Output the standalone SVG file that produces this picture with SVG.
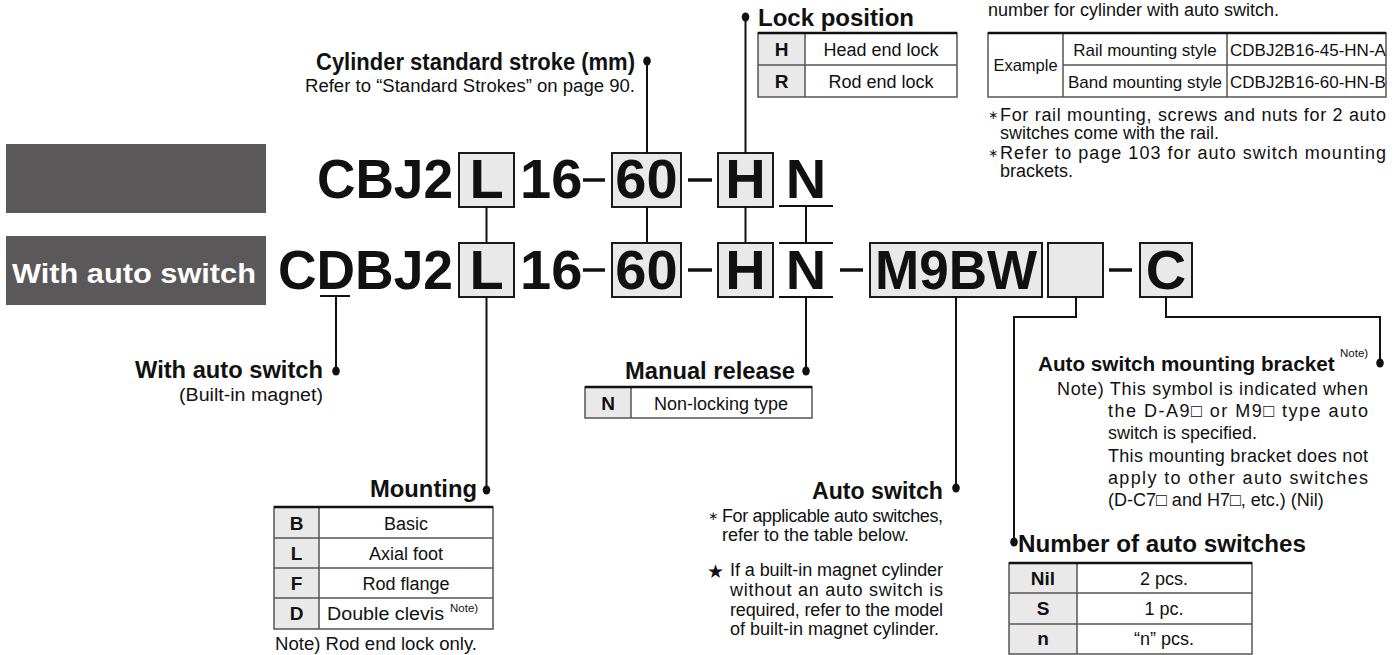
<svg xmlns="http://www.w3.org/2000/svg" width="1396" height="655" viewBox="0 0 1396 655">
<defs>
<style>
text{font-family:"Liberation Sans",Arial,sans-serif;fill:#111}
.b{font-weight:bold}
.w{fill:#fff}
.code{font-weight:bold;font-size:56px}
.lbl{font-weight:bold;font-size:23px}
.t{font-size:18px}
.s{font-size:17px}
.sup{font-size:11.5px;font-weight:normal}
.ast{font-size:12px;font-family:"DejaVu Sans",sans-serif}
.mid{text-anchor:middle}
.end{text-anchor:end}
.box{fill:#e8e9e8;stroke:#1a1a1a;stroke-width:2}
.ln{stroke:#111;stroke-width:2;fill:none}
.dash{stroke:#111;stroke-width:3.5}
.dot{fill:#111}
.cell{fill:#e8e9e8}
.grid{stroke:#555;stroke-width:1.5;fill:none}
.top{stroke:#111;stroke-width:2.5}
.gray{fill:#5b5859}
</style>
</defs>
<rect width="1396" height="655" fill="#fff"/>

<g id="headers">
<rect class="gray" x="6" y="144" width="260" height="69"/>
<rect class="gray" x="6" y="236" width="260" height="69"/>
<text class="b w mid" x="134" y="283" font-size="28" textLength="244" lengthAdjust="spacingAndGlyphs">With auto switch</text>
</g>

<g id="code-row1">
<text class="code" x="317" y="198" textLength="136" lengthAdjust="spacingAndGlyphs">CBJ2</text>
<rect class="box" x="459" y="153" width="55" height="54"/>
<text class="code mid" x="486.5" y="198">L</text>
<text class="code" x="520" y="198">16</text>
<line class="dash" x1="583" y1="180" x2="605" y2="180"/>
<rect class="box" x="612" y="153" width="69" height="54"/>
<text class="code mid" x="646.5" y="198">60</text>
<line class="dash" x1="688" y1="180" x2="712" y2="180"/>
<rect class="box" x="718" y="153" width="55" height="54"/>
<text class="code mid" x="745.5" y="198">H</text>
<text class="code mid" x="806" y="198">N</text>
<line class="ln" x1="779" y1="206" x2="833" y2="206"/>
</g>

<g id="code-row2">
<text class="code" x="278" y="289" textLength="175" lengthAdjust="spacingAndGlyphs">CDBJ2</text>
<line class="ln" x1="320" y1="296" x2="350" y2="296"/>
<rect class="box" x="459" y="243" width="55" height="54"/>
<text class="code mid" x="486.5" y="289">L</text>
<text class="code" x="520" y="289">16</text>
<line class="dash" x1="583" y1="270" x2="605" y2="270"/>
<rect class="box" x="612" y="243" width="69" height="54"/>
<text class="code mid" x="646.5" y="289">60</text>
<line class="dash" x1="688" y1="270" x2="712" y2="270"/>
<rect class="box" x="718" y="243" width="55" height="54"/>
<text class="code mid" x="745.5" y="289">H</text>
<line class="ln" x1="779" y1="243" x2="833" y2="243"/>
<text class="code mid" x="806" y="289">N</text>
<line class="ln" x1="779" y1="297" x2="833" y2="297"/>
<line class="dash" x1="840" y1="270" x2="863" y2="270"/>
<rect class="box" x="870" y="243" width="172" height="54"/>
<text class="code mid" x="956" y="289" textLength="162" lengthAdjust="spacingAndGlyphs">M9BW</text>
<rect class="box" x="1048" y="243" width="55" height="54"/>
<line class="dash" x1="1109" y1="270" x2="1132" y2="270"/>
<rect class="box" x="1140" y="243" width="52" height="54"/>
<text class="code mid" x="1166" y="289">C</text>
</g>

<g id="connectors">
<line class="ln" x1="647" y1="61" x2="647" y2="153"/>
<line class="ln" x1="647" y1="207" x2="647" y2="243"/>
<line class="ln" x1="745.5" y1="17" x2="745.5" y2="153"/>
<line class="ln" x1="745.5" y1="207" x2="745.5" y2="243"/>
<line class="ln" x1="486.5" y1="207" x2="486.5" y2="243"/>
<line class="ln" x1="486.5" y1="297" x2="486.5" y2="490"/>
<line class="ln" x1="806" y1="206" x2="806" y2="243"/>
<line class="ln" x1="806" y1="297" x2="806" y2="371"/>
<line class="ln" x1="336" y1="296" x2="336" y2="371"/>
<line class="ln" x1="956" y1="297" x2="956" y2="488"/>
<polyline class="ln" points="1076,297 1076,317 1014,317 1014,542"/>
<polyline class="ln" points="1166,297 1166,317 1380,317 1380,363"/>
<ellipse class="dot" cx="647" cy="61" rx="3.8" ry="4.6"/>
<ellipse class="dot" cx="745.5" cy="17" rx="3.8" ry="4.6"/>
<ellipse class="dot" cx="486.5" cy="490" rx="3.8" ry="4.6"/>
<ellipse class="dot" cx="806" cy="371" rx="3.8" ry="4.6"/>
<ellipse class="dot" cx="336" cy="371" rx="3.8" ry="4.6"/>
<ellipse class="dot" cx="956" cy="488" rx="3.8" ry="4.6"/>
<ellipse class="dot" cx="1014" cy="542" rx="3.8" ry="4.6"/>
<ellipse class="dot" cx="1380" cy="363" rx="3.8" ry="4.6"/>
</g>

<g id="stroke-label">
<text class="lbl end" x="635" y="70" font-size="22" textLength="319" lengthAdjust="spacingAndGlyphs">Cylinder standard stroke (mm)</text>
<text class="t end" x="635" y="92" textLength="330" lengthAdjust="spacingAndGlyphs">Refer to “Standard Strokes” on page 90.</text>
</g>

<g id="lock-position">
<text class="lbl" x="758" y="26" font-size="24" textLength="156" lengthAdjust="spacingAndGlyphs">Lock position</text>
<rect class="cell" x="758" y="33" width="47" height="64"/>
<rect class="grid" x="758" y="33" width="199" height="64"/>
<line class="grid" x1="758" y1="65" x2="957" y2="65"/>
<line class="grid" x1="805" y1="33" x2="805" y2="97"/>
<line class="top" x1="758" y1="33" x2="957" y2="33"/>
<text class="b mid" x="781.5" y="56" font-size="19">H</text>
<text class="t mid" x="881" y="56">Head end lock</text>
<text class="b mid" x="781.5" y="88" font-size="19">R</text>
<text class="t mid" x="881" y="88">Rod end lock</text>
</g>

<g id="example-note">
<text class="t" x="988" y="16">number for cylinder with auto switch.</text>
<rect class="grid" x="988" y="33" width="398" height="64"/>
<line class="grid" x1="1063" y1="65" x2="1386" y2="65"/>
<line class="grid" x1="1063" y1="33" x2="1063" y2="97"/>
<line class="grid" x1="1227" y1="33" x2="1227" y2="97"/>
<line class="top" x1="988" y1="33" x2="1386" y2="33"/>
<text class="mid" x="1025.5" y="71" font-size="16.5">Example</text>
<text class="s mid" x="1145" y="56">Rail mounting style</text>
<text class="s mid" x="1145" y="88">Band mounting style</text>
<text class="s" x="1230" y="56">CDBJ2B16-45-HN-A</text>
<text class="s" x="1230" y="88">CDBJ2B16-60-HN-B</text>
<text class="ast" x="988" y="119">∗</text>
<text class="t" x="1000" y="121" textLength="386" lengthAdjust="spacing">For rail mounting, screws and nuts for 2 auto</text>
<text class="t" x="1000" y="139">switches come with the rail.</text>
<text class="ast" x="988" y="157">∗</text>
<text class="t" x="1000" y="159" textLength="386" lengthAdjust="spacing">Refer to page 103 for auto switch mounting</text>
<text class="t" x="1000" y="177">brackets.</text>
</g>

<g id="with-auto-switch">
<text class="lbl end" x="323" y="378" textLength="188" lengthAdjust="spacingAndGlyphs">With auto switch</text>
<text class="t end" x="323" y="401" textLength="144" lengthAdjust="spacingAndGlyphs">(Built-in magnet)</text>
</g>

<g id="manual-release">
<text class="lbl end" x="795" y="379" textLength="170" lengthAdjust="spacingAndGlyphs">Manual release</text>
<rect class="cell" x="585" y="387" width="46" height="31"/>
<rect class="grid" x="585" y="387" width="227" height="31"/>
<line class="grid" x1="631" y1="387" x2="631" y2="418"/>
<line class="top" x1="585" y1="387" x2="812" y2="387"/>
<text class="b mid" x="608" y="410" font-size="19">N</text>
<text class="t mid" x="721" y="410">Non-locking type</text>
</g>

<g id="mounting">
<text class="lbl end" x="477" y="497" textLength="107" lengthAdjust="spacingAndGlyphs">Mounting</text>
<rect class="cell" x="274" y="507" width="45" height="122"/>
<rect class="grid" x="274" y="507" width="219" height="122"/>
<line class="grid" x1="274" y1="538" x2="493" y2="538"/>
<line class="grid" x1="274" y1="568" x2="493" y2="568"/>
<line class="grid" x1="274" y1="598" x2="493" y2="598"/>
<line class="grid" x1="319" y1="507" x2="319" y2="629"/>
<line class="top" x1="274" y1="507" x2="493" y2="507"/>
<text class="b mid" x="296.5" y="530" font-size="19">B</text>
<text class="t mid" x="406" y="530">Basic</text>
<text class="b mid" x="296.5" y="560" font-size="19">L</text>
<text class="t mid" x="406" y="560">Axial foot</text>
<text class="b mid" x="296.5" y="590" font-size="19">F</text>
<text class="t mid" x="406" y="590">Rod flange</text>
<text class="b mid" x="296.5" y="620" font-size="19">D</text>
<text class="t" x="327" y="620" textLength="117" lengthAdjust="spacingAndGlyphs">Double clevis</text>
<text class="sup" x="450" y="612">Note)</text>
<text class="t" x="275" y="650" textLength="202" lengthAdjust="spacingAndGlyphs">Note) Rod end lock only.</text>
</g>

<g id="auto-switch">
<text class="lbl end" x="943" y="499" textLength="131" lengthAdjust="spacingAndGlyphs">Auto switch</text>
<text class="ast" x="708" y="520">∗</text>
<text class="t" x="722" y="522" textLength="221" lengthAdjust="spacing">For applicable auto switches,</text>
<text class="t" x="722" y="541">refer to the table below.</text>
<text x="707" y="578" font-size="19" font-family="DejaVu Sans, sans-serif">★</text>
<text class="t" x="730" y="576" textLength="213" lengthAdjust="spacing">If a built-in magnet cylinder</text>
<text class="t" x="730" y="596" textLength="213" lengthAdjust="spacing">without an auto switch is</text>
<text class="t" x="730" y="616" textLength="213" lengthAdjust="spacing">required, refer to the model</text>
<text class="t" x="730" y="635">of built-in magnet cylinder.</text>
</g>

<g id="bracket">
<text class="b" x="1038" y="371" font-size="20.7">Auto switch mounting bracket<tspan class="sup" x="1340" y="357">Note)</tspan></text>
<text class="t" x="1057" y="395" textLength="311" lengthAdjust="spacing">Note) This symbol is indicated when</text>
<text class="t" x="1108" y="417" textLength="260" lengthAdjust="spacing">the D-A9□ or M9□ type auto</text>
<text class="t" x="1108" y="439">switch is specified.</text>
<text class="t" x="1108" y="462" textLength="260" lengthAdjust="spacing">This mounting bracket does not</text>
<text class="t" x="1108" y="484" textLength="260" lengthAdjust="spacing">apply to other auto switches</text>
<text class="t" x="1108" y="506">(D-C7□ and H7□, etc.) (Nil)</text>
</g>

<g id="number-of-switches">
<text class="lbl" x="1018" y="552" font-size="24" textLength="288" lengthAdjust="spacingAndGlyphs">Number of auto switches</text>
<rect class="cell" x="1009" y="563" width="68" height="91"/>
<rect class="grid" x="1009" y="563" width="243" height="91"/>
<line class="grid" x1="1009" y1="593" x2="1252" y2="593"/>
<line class="grid" x1="1009" y1="624" x2="1252" y2="624"/>
<line class="grid" x1="1077" y1="563" x2="1077" y2="654"/>
<line class="top" x1="1009" y1="563" x2="1252" y2="563"/>
<text class="b mid" x="1043" y="585" font-size="19">Nil</text>
<text class="t mid" x="1164" y="585">2 pcs.</text>
<text class="b mid" x="1043" y="615" font-size="19">S</text>
<text class="t mid" x="1164" y="615">1 pc.</text>
<text class="b mid" x="1043" y="645" font-size="19">n</text>
<text class="t mid" x="1164" y="645">“n” pcs.</text>
</g>
</svg>
